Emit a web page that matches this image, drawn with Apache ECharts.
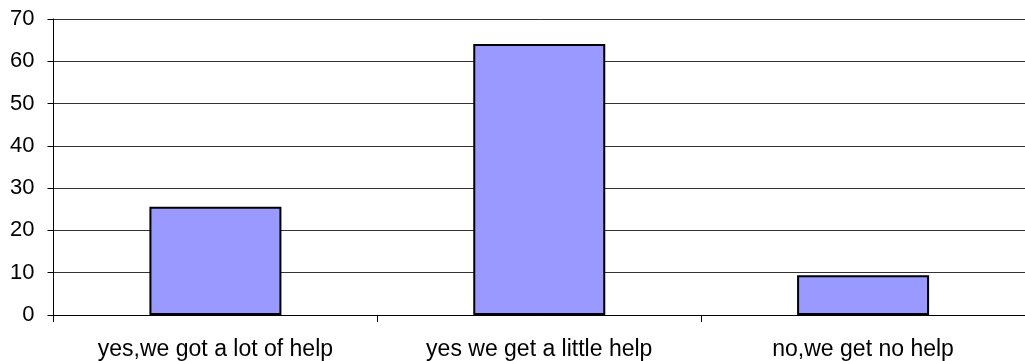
<!DOCTYPE html>
<html>
<head>
<meta charset="utf-8">
<script src="https://cdn.jsdelivr.net/npm/echarts@6/dist/echarts.min.js"></script>
<style>
  html, body { margin: 0; padding: 0; background: #fff; overflow: hidden; }
  #chart { width: 1025px; height: 361px; }
</style>
</head>
<body>
<div id="chart"></div>
<script>
// Survey answers and their percentages
const categories = ['yes,we got a lot of help', 'yes we get a little help', 'no,we get no help'];
const values = [25.6, 64.1, 9.4];
const yTicks = { min: 0, max: 70, interval: 10 };

const chart = echarts.init(document.getElementById('chart'), null, { renderer: 'canvas' });
const font = 'Liberation Sans, Arial, sans-serif';

chart.setOption({
  animation: false,
  backgroundColor: '#ffffff',
  grid: { left: 53.5, width: 975, top: 19, height: 296, containLabel: false },
  xAxis: {
    type: 'category',
    data: categories,
    boundaryGap: true,
    axisLine: { lineStyle: { color: '#000', width: 1 } },
    axisTick: { show: true, length: 7, alignWithLabel: false, lineStyle: { color: '#000' } },
    axisLabel: { color: '#000', fontFamily: font, fontSize: 23, margin: 23, interval: 0 },
    splitLine: { show: false }
  },
  yAxis: {
    type: 'value',
    min: yTicks.min,
    max: yTicks.max,
    interval: yTicks.interval,
    axisLine: { show: true, lineStyle: { color: '#000', width: 1 } },
    axisTick: { show: true, length: 6, lineStyle: { color: '#000' } },
    axisLabel: { color: '#000', fontFamily: font, fontSize: 22, margin: 19 },
    splitLine: { show: true, lineStyle: { color: '#333', width: 1 } }
  },
  series: [{
    type: 'bar',
    data: values,
    barWidth: 132,
    itemStyle: { color: '#9999ff', borderColor: '#000', borderWidth: 2 }
  }]
});
</script>
</body>
</html>
